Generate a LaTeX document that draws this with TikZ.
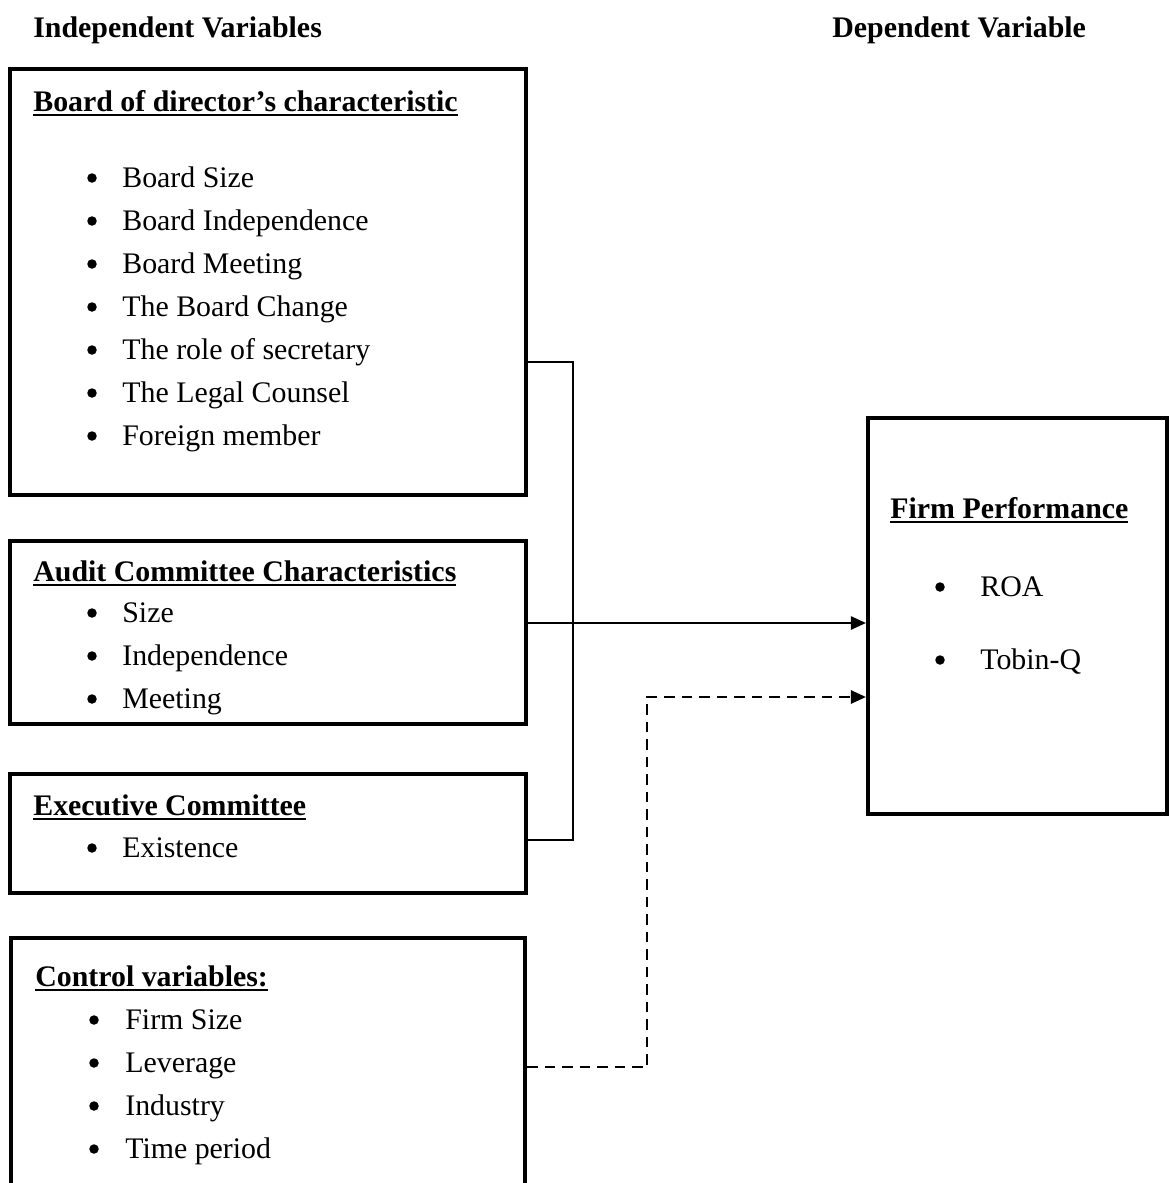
\documentclass[tikz,border=0pt]{standalone}
\usepackage{fontspec}
\setmainfont{Liberation Serif}
\usetikzlibrary{arrows.meta,fit}

% underlined box heading with a heavier rule
\newcommand{\ulhead}[1]{\setbox0\hbox{\bfseries #1}\rlap{\rule[-0.17em]{\wd0}{0.06em}}\box0}

\begin{document}
\begin{tikzpicture}[x=0.02cm,y=-0.02cm,
  every node/.style={font=\fontsize{17}{20}\selectfont},
  panel/.style={draw, line width=2.3pt, inner sep=0pt},
  txt/.style={anchor=base west, inner sep=0pt},
  dot/.style={circle, fill, inner sep=0pt, minimum size=0.19cm},
  link/.style={line width=0.8pt},
  mainarrow/.style={line width=1.4pt, -{Triangle[length=0.3cm,width=0.26cm]}},
  ctrlarrow/.style={line width=1.5pt, dash pattern=on 0.21cm off 0.14cm,
                    -{Triangle[length=0.3cm,width=0.26cm]}}]
\useasboundingbox (0,0) rectangle (1169,1183);
\clip (0,0) rectangle (1169,1183);

% column titles
\node[txt] (indep) at (33,37) {\bfseries Independent Variables};
\node[txt] (dep) at (832,37) {\bfseries Dependent Variable};

% panels
\node[panel, fit={(10,69) (526,495)}] (board) {};
\node[panel, fit={(10,541) (526,724)}] (audit) {};
\node[panel, fit={(10,774) (526,893)}] (exec) {};
\node[panel, fit={(11,938) (525,1230)}] (control) {};
\node[panel, fit={(868,418) (1167,814)}] (firm) {};

% board of directors
\node[txt] (bh) at (33,111) {\ulhead{Board of director’s characteristic}};
\foreach \t [count=\i from 0] in {Board Size, Board Independence, Board Meeting,
    The Board Change, The role of secretary, The Legal Counsel, Foreign member}{
  \node[dot] (bd\i) at (92,178+43*\i) {};
  \node[txt] (bt\i) at (122,187+43*\i) {\t};
}

% audit committee
\node[txt] (ah) at (33,581) {\ulhead{Audit Committee Characteristics}};
\foreach \t [count=\i from 0] in {Size, Independence, Meeting}{
  \node[dot] (ad\i) at (92,613+43*\i) {};
  \node[txt] (at\i) at (122,622+43*\i) {\t};
}

% executive committee
\node[txt] (eh) at (33,815) {\ulhead{Executive Committee}};
\node[dot] (ed0) at (92,848) {};
\node[txt] (et0) at (122,857) {Existence};

% control variables
\node[txt] (ch) at (35,986) {\ulhead{Control variables:}};
\foreach \t [count=\i from 0] in {Firm Size, Leverage, Industry, Time period}{
  \node[dot] (cd\i) at (94,1020+43*\i) {};
  \node[txt] (ct\i) at (125,1029+43*\i) {\t};
}

% firm performance
\node[txt] (fh) at (890,518) {\ulhead{Firm Performance}};
\node[dot] (fd0) at (940,587) {};
\node[txt] (ft0) at (980,596) {ROA};
\node[dot] (fd1) at (940,660) {};
\node[txt] (ft1) at (980,669) {Tobin-Q};

% bracket joining the three governance panels
\coordinate (btop) at (573,362);
\coordinate (bbot) at (573,840);
\draw[link] (board.east |- btop) -- (btop) -- (bbot) -- (exec.east |- bbot);

% main effect
\draw[mainarrow] (audit.east |- 0,623) -- (firm.west |- 0,623);

% control effect
\coordinate (cturn) at (647,697);
\draw[ctrlarrow] (control.east |- 0,1067) -| (cturn) -- (firm.west |- cturn);
\end{tikzpicture}
\end{document}
